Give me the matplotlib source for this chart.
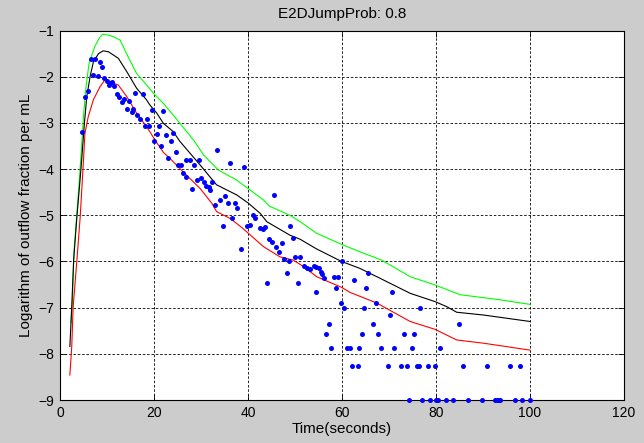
import matplotlib

matplotlib.use("Agg")
import matplotlib.pyplot as plt  # noqa: E402

plt.rcParams["font.family"] = ["Liberation Sans", "DejaVu Sans"]

TITLE = "E2DJumpProb: 0.8"
XTICKS = [0, 20, 40, 60, 80, 100, 120]
YTICKS = [-9, -8, -7, -6, -5, -4, -3, -2, -1]

# upper / middle / lower model curves
green_t = [2.3, 2.6, 3.0, 4.0, 4.6, 5.0, 5.5, 6.2, 7.4, 8.3, 9.1, 10.3, 11.5, 12.8,
           14.5, 16.3, 18.1, 19.9, 22.0, 24.5, 25.5, 28.4, 30.5, 33.7, 37.6, 40.4,
           43.3, 44.5, 48.9, 51.1, 54.6, 59.9, 63.8, 68.4, 74.5, 79.8, 85.1, 93.6, 100]
green_y = [-7.33, -6.98, -5.75, -4.4, -3.5, -2.85, -2.25, -1.7, -1.35, -1.17, -1.08,
           -1.10, -1.14, -1.21, -1.57, -1.93, -2.14, -2.36, -2.58, -2.88, -3.01, -3.37,
           -3.69, -4.02, -4.24, -4.45, -4.67, -4.80, -5.0, -5.14, -5.39, -5.63, -5.79,
           -5.97, -6.33, -6.51, -6.72, -6.83, -6.93]

black_t = [2.1, 2.5, 2.9, 3.6, 4.5, 5.2, 5.7, 6.4, 7.1, 8.2, 9.2, 10.3, 12.4, 14.2,
           16.3, 18.4, 19.1, 20.6, 22.0, 24.1, 25.5, 29.8, 33.3, 37.6, 40.1, 42.6,
           44.0, 48.9, 51.1, 54.6, 59.9, 63.8, 67.4, 74.5, 79.8, 82.3, 84.4, 90.1, 100]
black_y = [-7.84, -6.98, -5.97, -5.03, -3.95, -3.0, -2.43, -2.0, -1.68, -1.50, -1.44,
           -1.46, -1.60, -1.89, -2.25, -2.50, -2.61, -2.79, -3.01, -3.19, -3.40, -3.91,
           -4.34, -4.56, -4.74, -4.96, -5.14, -5.43, -5.52, -5.73, -6.00, -6.15, -6.33,
           -6.69, -6.87, -6.98, -7.10, -7.16, -7.30]

red_t = [2.1, 2.5, 2.8, 3.6, 4.3, 5.0, 5.3, 6.0, 7.1, 8.5, 9.6, 11.3, 12.4, 14.2,
         16.3, 18.4, 19.1, 20.2, 22.0, 23.4, 26.2, 29.8, 32.3, 33.3, 36.2, 38.5,
         43.3, 46.8, 49.6, 51.8, 54.6, 59.9, 61.7, 67.4, 74.5, 79.8, 84.4, 90.1, 100]
red_y = [-8.46, -7.84, -6.98, -5.97, -5.03, -3.80, -3.23, -2.87, -2.50, -2.22, -2.06,
         -2.14, -2.18, -2.43, -2.79, -3.08, -3.19, -3.37, -3.64, -3.77, -4.06, -4.42,
         -4.74, -4.92, -5.07, -5.25, -5.68, -5.90, -5.97, -6.11, -6.33, -6.56, -6.67,
         -6.90, -7.30, -7.47, -7.70, -7.77, -7.92]

# measured points
obs_t = [4.7, 5.4, 5.9, 6.5, 7.5, 8.5, 8.9, 7.0, 8.0, 9.4, 10.0, 10.4, 11.0, 11.4,
         10.7, 12.1, 12.6, 13.1, 13.6, 14.2, 14.7, 15.3, 15.6, 16.0, 17.6, 16.4,
         17.0, 18.6, 18.1, 19.0, 19.6, 22.0, 21.1, 20.6, 22.6, 24.1, 20.0, 21.4,
         23.6, 23.0, 24.6, 25.2, 25.7, 26.8, 27.7, 28.6, 29.6, 33.5, 36.2, 39.1,
         26.2, 26.9, 29.1, 30.1, 30.6, 32.3, 28.0, 31.6, 31.9, 31.0, 33.0, 34.0,
         35.1, 35.7, 37.2, 37.7, 36.7, 34.6, 41.1, 41.5, 39.7, 40.4, 42.6, 43.6,
         43.1, 45.6, 38.5, 48.9, 49.5, 44.5, 45.0, 47.2, 46.0, 46.7, 47.7, 48.8,
         50.0, 51.1, 48.2, 44.0, 50.6, 52.0, 52.6, 53.2, 54.0, 54.5, 55.2, 55.5,
         55.8, 56.1, 54.5, 58.3, 59.2, 58.7, 60.1, 59.8, 60.5, 62.6, 65.6, 65.0,
         67.2, 64.7, 70.6, 70.2, 76.6,
         57.2, 66.5, 84.8,
         56.6, 64.2, 67.6, 73.2, 75.3,
         57.7, 61.0, 61.7, 63.7, 68.2, 71.1, 74.8, 80.9,
         62.1, 63.3, 69.7, 72.6, 73.8, 75.9, 76.3, 78.2, 79.8, 85.8, 90.8, 95.7, 97.9,
         74.3, 77.1, 78.7, 80.1, 80.5, 82.1, 83.7, 86.9, 89.7, 92.6, 92.9, 93.3, 93.6,
         96.8, 98.4, 100.0]
obs_y = [-3.19, -2.45, -2.31, -1.62, -1.62, -1.68, -1.80, -1.96, -1.98, -2.03, -2.09,
         -2.18, -2.11, -2.20, -2.14, -2.37, -2.43, -2.54, -2.49, -2.71, -2.52, -2.76,
         -2.69, -2.36, -2.37, -2.82, -2.92, -2.92, -3.06, -3.06, -2.73, -2.74, -3.07,
         -3.25, -3.26, -3.23, -3.39, -3.51, -3.40, -3.77, -3.62, -3.91, -3.91, -3.80,
         -3.80, -3.91, -3.80, -3.59, -3.87, -3.95, -4.08, -4.18, -4.24, -4.20, -4.29,
         -4.27, -4.44, -4.39, -4.45, -4.36, -4.78, -4.68, -4.58, -4.73, -4.74, -4.85,
         -5.07, -5.23, -4.99, -5.07, -5.24, -5.21, -5.28, -5.25, -5.30, -4.56, -5.74,
         -5.23, -5.50, -5.52, -5.57, -5.59, -5.68, -5.79, -5.95, -6.00, -5.91, -5.91,
         -6.26, -6.47, -6.47, -6.10, -6.14, -6.17, -6.10, -6.12, -6.15, -6.22, -6.28,
         -6.35, -6.67, -6.33, -6.33, -6.57, -6.00, -6.89, -7.01, -6.40, -6.26, -6.57,
         -6.89, -7.01, -6.67, -7.16, -7.01,
         -7.35, -7.35, -7.35,
         -7.58, -7.58, -7.58, -7.58, -7.58,
         -7.87, -7.87, -7.87, -7.87, -7.87, -7.87, -7.87, -7.87,
         -8.26, -8.26, -8.26, -8.26, -8.26, -8.26, -8.26, -8.26, -8.26, -8.26, -8.26,
         -8.26, -8.26,
         -9.0, -9.0, -9.0, -9.0, -9.0, -9.0, -9.0, -9.0, -9.0, -9.0, -9.0, -9.0, -9.0,
         -9.0, -9.0, -9.0]

fig = plt.figure(figsize=(6.44, 4.43), dpi=100, facecolor="#cccccc")
ax = fig.add_axes([60 / 644, 1 - 400 / 443, 564 / 644, 369.5 / 443])
ax.set_facecolor("white")

ax.plot(green_t, green_y, color="#00ff00", lw=0.8)
ax.plot(black_t, black_y, color="black", lw=0.8)
ax.plot(red_t, red_y, color="#ff0000", lw=0.8)
ax.plot(obs_t, obs_y, "o", color="#0000ff", ms=3.6, mew=0, clip_on=False, zorder=4)

ax.set_xlim(0, 120)
ax.set_ylim(-9, -1)
ax.set_xticks(XTICKS)
ax.set_yticks(YTICKS)
ax.tick_params(direction="in", length=4, width=0.6, top=True, right=True,
               labelsize=10, pad=4, colors="black")
ax.grid(True, color="black", lw=0.6, linestyle=(0, (3, 2.2)))
for s in ax.spines.values():
    s.set_linewidth(0.8)

ax.set_title(TITLE, fontsize=11, pad=9)
ax.set_xlabel("Time(seconds)", fontsize=11, labelpad=2)
ax.set_ylabel("Logarithm of outflow fraction per mL", fontsize=11, labelpad=4)

fig.savefig("out.png", dpi=100, facecolor=fig.get_facecolor())
